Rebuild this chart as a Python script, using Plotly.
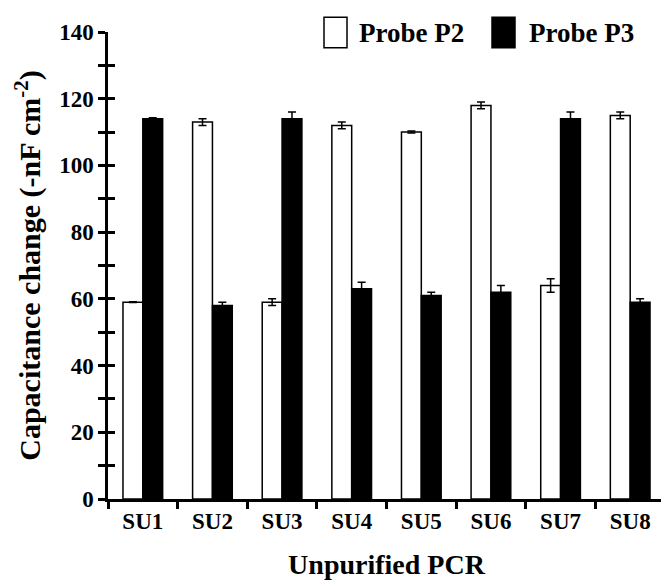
import plotly.graph_objects as go

categories = ["SU1", "SU2", "SU3", "SU4", "SU5", "SU6", "SU7", "SU8"]
series_names = ["Probe P2", "Probe P3"]
p2_values = [59, 113, 59, 112, 110, 118, 64, 115]
p2_errors = [0.1, 1, 1, 1, 0.3, 1, 2, 1]
p3_values = [114, 58, 114, 63, 61, 62, 114, 59]
p3_errors = [0.3, 1, 2, 2, 1, 2, 2, 1]
y_ticks = [0, 20, 40, 60, 80, 100, 120, 140]

W, H = 669, 581
OFF = 8  # default page body margin shifts the figure
# plot area in window pixels
PL, PR, PT, PB = 108, 665, 28, 499
ML, MT = PL - OFF, PT - OFF
MR, MB = W - (PR - OFF), H - (PB - OFF)
FONT = "Liberation Serif, Times New Roman, serif"

def px_x(p):
    return (p - PL) / (PR - PL)

def px_y(p):
    return 1 - (p - PT) / (PB - PT)

fig = go.Figure()
fig.add_trace(go.Bar(
    x=categories, y=p2_values, name=series_names[0],
    marker=dict(color="white", line=dict(color="black", width=1.5)),
    error_y=dict(type="data", array=p2_errors, color="black", thickness=1.5, width=4),
    showlegend=False,
))
fig.add_trace(go.Bar(
    x=categories, y=p3_values, name=series_names[1],
    marker=dict(color="black", line=dict(color="black", width=1.5)),
    error_y=dict(type="data", array=p3_errors, color="black", thickness=1.5, width=4),
    showlegend=False,
))
fig.add_trace(go.Scatter(x=[categories[0]], y=[0], yaxis="y2", mode="markers",
                         marker=dict(opacity=0), showlegend=False, hoverinfo="skip"))

fig.update_layout(
    width=W, height=H,
    margin=dict(l=ML, r=MR, t=MT, b=MB),
    plot_bgcolor="white", paper_bgcolor="white",
    barmode="group", bargap=0.43, bargroupgap=0,
    font=dict(family=FONT, color="black"),
    xaxis=dict(
        type="category", showline=True, linecolor="black", linewidth=2.5,
        ticks="outside", tickson="boundaries", ticklen=7, tickwidth=2.5, tickcolor="black",
        tickfont=dict(family=FONT, size=23, color="black"),
        ticktext=["<b>" + c + "</b>" for c in categories], tickvals=categories,
        title=dict(text="<b>Unpurified PCR</b>", font=dict(family=FONT, size=28, color="black"), standoff=22),
        showgrid=False, zeroline=False,
    ),
    yaxis=dict(
        range=[0, 140], tickvals=y_ticks, ticktext=["<b>%d</b>" % v for v in y_ticks],
        showline=True, linecolor="black", linewidth=2.5,
        ticks="outside", ticklen=7, tickwidth=2.5, tickcolor="black",
        minor=dict(dtick=10, ticks="outside", ticklen=7, tickwidth=2.5, tickcolor="black"),
        tickfont=dict(family=FONT, size=23, color="black"),
        title=dict(text="<b>Capacitance change (-nF cm<sup>-2</sup>)</b>",
                   font=dict(family=FONT, size=30, color="black"), standoff=10),
        showgrid=False, zeroline=False,
    ),
    yaxis2=dict(
        range=[0, 140], overlaying="y", side="left", dtick=10,
        ticks="inside", ticklen=7, tickwidth=2.5, tickcolor="black",
        showticklabels=False, showline=False, showgrid=False, zeroline=False,
    ),
)

legend_items = [(series_names[0], "white", 324, 357), (series_names[1], "black", 492, 527)]
for name, color, bx, tx in legend_items:
    fig.add_shape(type="rect", xref="paper", yref="paper",
                  x0=px_x(bx), x1=px_x(bx + 23), y0=px_y(44), y1=px_y(13),
                  fillcolor=color, line=dict(color="black", width=1.5))
    fig.add_annotation(xref="paper", yref="paper", x=px_x(tx), y=px_y(29),
                       xanchor="left", yanchor="middle", showarrow=False,
                       text="<b>" + name + "</b>", font=dict(family=FONT, size=27, color="black"))

fig.write_html("out.html")
